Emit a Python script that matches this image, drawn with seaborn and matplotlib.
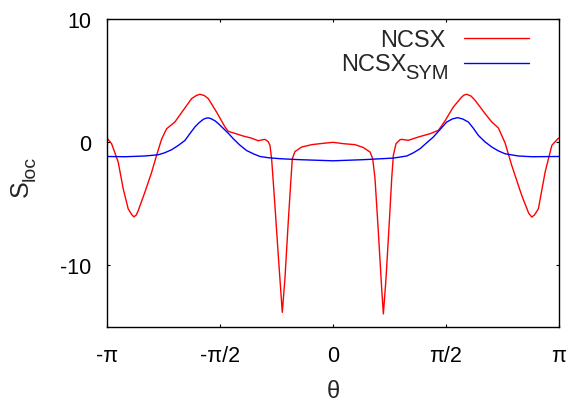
import numpy as np
import pandas as pd
import seaborn as sns
import matplotlib
matplotlib.use("Agg")
import matplotlib.pyplot as plt

# Local shear S_loc along the poloidal angle theta
theta_ncsx = [-3.142, -3.078, -2.986, -2.917, -2.847, -2.800, -2.768, -2.735, -2.708,
              -2.615, -2.522, -2.452, -2.383, -2.313, -2.198, -2.082, -1.965, -1.900,
              -1.850, -1.790, -1.734, -1.618, -1.502, -1.456, -1.350, -1.248, -1.140,
              -1.039, -0.946, -0.900, -0.876, -0.853, -0.807, -0.761, -0.705, -0.668,
              -0.622, -0.584, -0.566, -0.529, -0.435, -0.296, -0.181, 0.000, 0.143,
              0.306, 0.421, 0.515, 0.552, 0.584, 0.630, 0.677, 0.700, 0.737, 0.783,
              0.816, 0.839, 0.876, 0.932, 0.955, 1.047, 1.186, 1.349, 1.465, 1.558,
              1.673, 1.790, 1.820, 1.860, 1.920, 1.975, 2.114, 2.207, 2.299, 2.392,
              2.485, 2.624, 2.720, 2.763, 2.800, 2.855, 2.949, 3.042, 3.125, 3.142]
s_ncsx = [0.30, -0.16, -1.65, -3.80, -5.45, -5.90, -6.10, -5.95, -5.60,
          -4.10, -2.50, -1.10, 0.20, 1.05, 1.60, 2.55, 3.50, 3.75,
          3.85, 3.75, 3.50, 2.40, 1.20, 0.84, 0.65, 0.46, 0.30,
          0.08, 0.19, 0.00, -0.30, -1.40, -5.20, -9.20, -13.85, -11.10,
          -6.50, -3.00, -1.40, -0.80, -0.43, -0.24, -0.16, -0.05, -0.16,
          -0.24, -0.47, -0.84, -1.38, -3.00, -7.30, -11.95, -13.98, -11.10, -6.50,
          -3.00, -1.10, -0.16, 0.16, 0.19, 0.11, 0.38, 0.65, 0.92, 1.70,
          2.82, 3.63, 3.78, 3.85, 3.70, 3.36, 2.28, 1.60, 1.11, -0.10,
          -1.93, -4.37, -5.80, -6.12, -5.95, -5.45, -2.46, -0.30, 0.24, 0.30]

theta_sym = [-3.142, -2.893, -2.615, -2.430, -2.340, -2.243, -2.150, -2.058, -1.990,
             -1.919, -1.860, -1.804, -1.770, -1.734, -1.700, -1.641, -1.600, -1.502,
             -1.450, -1.387, -1.300, -1.200, -1.100, -1.015, -0.900, -0.737, -0.459,
             0.000, 0.421, 0.839, 1.025, 1.118, 1.210, 1.300, 1.395, 1.490, 1.581,
             1.660, 1.731, 1.800, 1.881, 1.950, 2.021, 2.110, 2.207, 2.300, 2.392,
             2.577, 2.763, 3.142]
s_sym = [-1.20, -1.22, -1.16, -1.06, -0.90, -0.65, -0.30, 0.10, 0.65,
         1.20, 1.55, 1.81, 1.90, 1.93, 1.88, 1.70, 1.50, 0.95,
         0.65, 0.25, -0.25, -0.72, -1.00, -1.20, -1.30, -1.38, -1.46,
         -1.55, -1.46, -1.33, -1.16, -0.90, -0.57, -0.10, 0.38, 1.00, 1.60,
         1.85, 1.95, 1.85, 1.60, 1.10, 0.51, 0.00, -0.43, -0.75, -0.98,
         -1.16, -1.22, -1.20]

xtick_pos = [-np.pi, -np.pi / 2, 0, np.pi / 2, np.pi]
xtick_labels = ["-\u03c0", "-\u03c0/2", "0", "\u03c0/2", "\u03c0"]
ytick_pos = [-10, 0, 10]
ytick_labels = ["-10", "0", "10"]

RED = "#ff0000"
BLUE = "#0000ff"

sns.set_style("ticks")
plt.rcParams["font.family"] = ["Liberation Sans", "DejaVu Sans"]

FS = 15.5

fig = plt.figure(figsize=(5.68, 4.02), dpi=100)
ax = fig.add_axes([107 / 568, 1 - 327.5 / 402, 452 / 568, 308 / 402])

df_ncsx = pd.DataFrame({"theta": theta_ncsx, "S": s_ncsx})
df_sym = pd.DataFrame({"theta": theta_sym, "S": s_sym})

sns.lineplot(data=df_ncsx, x="theta", y="S", ax=ax, color=RED, lw=1.0,
             sort=False, estimator=None, legend=False)
sns.lineplot(data=df_sym, x="theta", y="S", ax=ax, color=BLUE, lw=1.0,
             sort=False, estimator=None, legend=False)

ax.set_xlim(-np.pi, np.pi)
ax.set_ylim(-15, 10)
ax.set_xticks(xtick_pos)
ax.set_xticklabels(xtick_labels)
ax.set_yticks(ytick_pos)
ax.set_yticklabels(ytick_labels)

ax.tick_params(direction="in", length=2.5, width=0.8, top=True, right=True,
               labelsize=FS, colors="black")
ax.tick_params(axis="x", pad=13)
ax.tick_params(axis="y", pad=11)

for sp in ax.spines.values():
    sp.set_visible(True)
    sp.set_linewidth(1.0)
    sp.set_color("black")

# axis titles: theta below, S with a "loc" subscript on the left
ax.set_xlabel("\u03b8", fontsize=17)
ax.xaxis.set_label_coords(0.5, -0.175)
ax.set_ylabel("S", fontsize=18)
ax.yaxis.set_label_coords(-0.165, 0.45)
ax.annotate("loc", xy=(1.0, 1.0), xycoords=ax.yaxis.label, xytext=(4.5, 0),
            textcoords="offset points", rotation=90, ha="right", va="bottom",
            fontsize=14)

# key: right-aligned labels with line samples to their right
tr = ax.transAxes
ax.plot([0.790, 0.934], [0.9367, 0.9367], transform=tr, color=RED, lw=1.0,
        clip_on=False)
ax.plot([0.790, 0.934], [0.8545, 0.8545], transform=tr, color=BLUE, lw=1.0,
        clip_on=False)
ax.text(0.7493, 0.9117, "NCSX", transform=tr, ha="right", va="baseline",
        fontsize=17)
ax.text(0.7551, 0.8068, "SYM", transform=tr, ha="right", va="baseline",
        fontsize=14.5)
ax.text(0.6637, 0.8344, "NCSX", transform=tr, ha="right", va="baseline",
        fontsize=17)

fig.savefig("out.png", dpi=100, facecolor="white")
